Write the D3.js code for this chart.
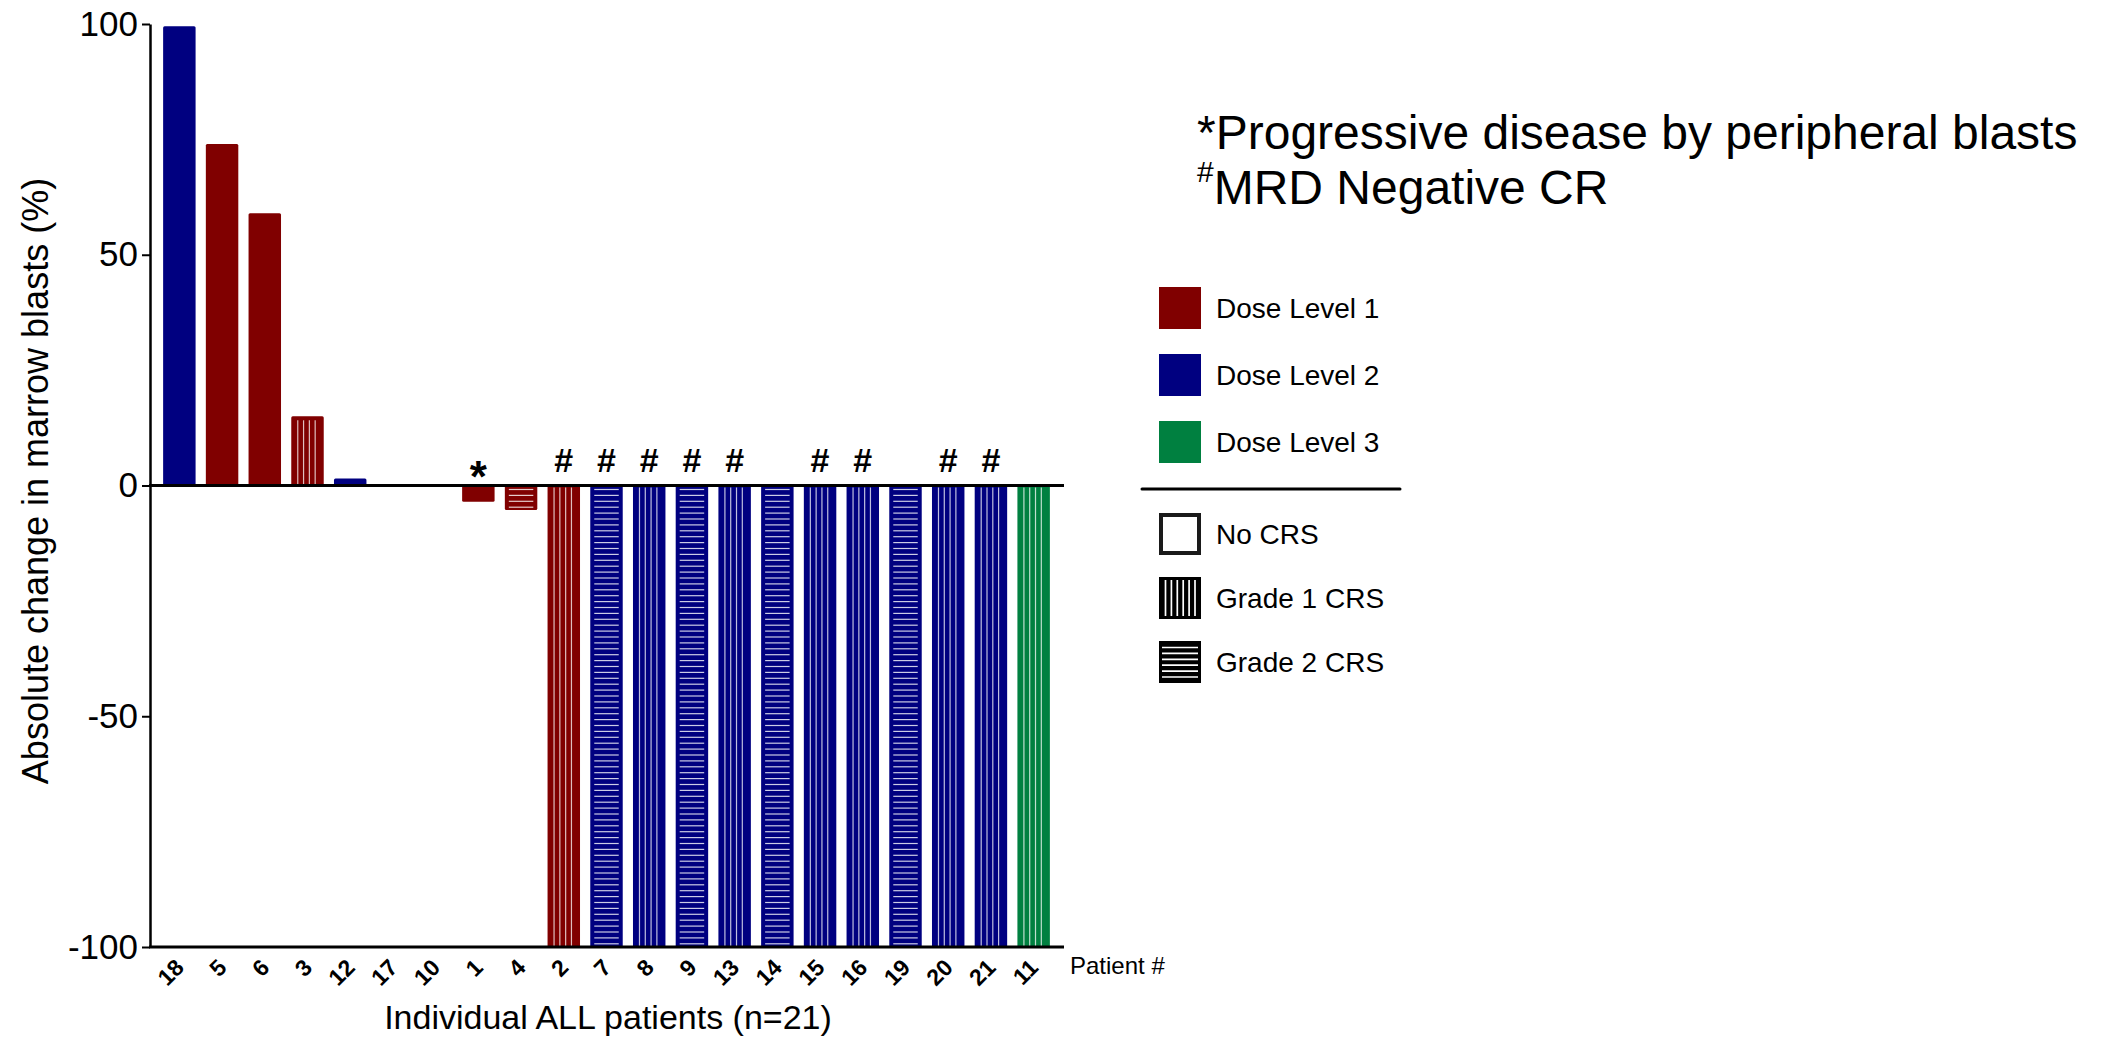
<!DOCTYPE html>
<html>
<head>
<meta charset="utf-8">
<script src="https://cdn.jsdelivr.net/npm/d3@7"></script>
<style>
body { margin: 0; background: #fff; }
text { font-family: "Liberation Sans", Arial, sans-serif; fill: #000; }
</style>
</head>
<body>
<svg id="chart"></svg>
<script>
// values
var patients = ["18", "5", "6", "3", "12", "17", "10", "1", "4", "2", "7", "8", "9", "13", "14", "15", "16", "19", "20", "21", "11"];
var change = [99.5, 74, 59, 15, 1.5, 0, 0, -3.5, -5.3, -100, -100, -100, -100, -100, -100, -100, -100, -100, -100, -100, -100];
var doseLevel = [2, 1, 1, 1, 2, null, null, 1, 1, 1, 2, 2, 2, 2, 2, 2, 2, 2, 2, 2, 3];
var crsGrade = [0, 0, 0, 1, 0, null, null, 0, 2, 1, 2, 1, 2, 1, 2, 1, 1, 2, 1, 1, 1];
var marks = ["", "", "", "", "", "", "", "*", "", "#", "#", "#", "#", "#", "", "#", "#", "", "#", "#", ""];
var yTicks = [-100, -50, 0, 50, 100];
var doseLabels = ["Dose Level 1", "Dose Level 2", "Dose Level 3"];
var crsLabels = ["No CRS", "Grade 1 CRS", "Grade 2 CRS"];
var noteLines = ["*Progressive disease by peripheral blasts", "MRD Negative CR"];

var doseColors = {1: "#800000", 2: "#000080", 3: "#008040"};

var w = 2101, h = 1038;
var svg = d3.select("#chart").attr("width", w).attr("height", h);

var x = d3.scaleBand()
          .domain(patients)
          .range([158, 1055])
          .paddingInner(0.24)
          .paddingOuter(0.12);
var y = d3.scaleLinear().domain([-100, 100]).range([947, 24]);

var rows = patients.map(function(p, i) {
  return {p: p, v: change[i], dose: doseLevel[i], crs: crsGrade[i], mark: marks[i]};
});
var bw = x.bandwidth();

// bars
var barG = svg.append("g");
rows.filter(function(d) { return d.v !== 0; }).forEach(function(d) {
  var x0 = x(d.p);
  var top = y(Math.max(d.v, 0)), bot = y(Math.min(d.v, 0));
  var g = barG.append("g");
  g.append("rect")
   .attr("x", x0).attr("y", top)
   .attr("width", bw).attr("height", bot - top)
   .attr("rx", 1.5)
   .attr("fill", doseColors[d.dose]);
  var s0 = d.v > 0 ? top + 4 : y(0) + 2;
  var s1 = bot;
  if (d.crs === 1) {
    for (var lx = x0 + 6.5; lx < x0 + bw - 4; lx += 5.8) {
      g.append("line")
       .attr("x1", lx).attr("x2", lx).attr("y1", s0).attr("y2", s1)
       .attr("stroke", "#fff").attr("stroke-opacity", 0.75).attr("stroke-width", 1.2);
    }
  } else if (d.crs === 2) {
    for (var ly = s0 + 2; ly < s1 - 2; ly += 5.9) {
      g.append("line")
       .attr("x1", x0 + 4).attr("x2", x0 + bw - 4).attr("y1", ly).attr("y2", ly)
       .attr("stroke", "#fff").attr("stroke-opacity", 0.8).attr("stroke-width", 1.2);
    }
  }
});

// markers above bars
svg.append("g").selectAll("text")
   .data(rows.filter(function(d) { return d.mark !== ""; }))
   .enter().append("text")
   .attr("x", function(d) { return x(d.p) + bw / 2; })
   .attr("y", function(d) { return d.mark === "#" ? y(0) - 14 : y(0) + 6; })
   .attr("text-anchor", "middle")
   .attr("font-weight", "bold")
   .attr("font-size", function(d) { return d.mark === "#" ? 34 : 44; })
   .text(function(d) { return d.mark; });

// y axis
var yAxis = d3.axisLeft(y).tickValues(yTicks)
              .tickFormat(function(d) { return String(d); })
              .tickSize(8).tickSizeOuter(0).tickPadding(4);
var yG = svg.append("g").attr("transform", "translate(150,0)").call(yAxis);
yG.select(".domain").attr("stroke", "#000").attr("stroke-width", 2.5);
yG.selectAll(".tick line").attr("stroke", "#000").attr("stroke-width", 2);
yG.selectAll(".tick text")
  .attr("font-size", 35)
  .attr("font-family", "Liberation Sans, Arial, sans-serif")
  .attr("fill", "#000");

// zero line and bottom line
[0, -100].forEach(function(v) {
  svg.append("line")
     .attr("x1", 149).attr("x2", 1064)
     .attr("y1", y(v)).attr("y2", y(v))
     .attr("stroke", "#000").attr("stroke-width", 3);
});

// patient labels
var xAxis = d3.axisBottom(x).tickSize(0).tickPadding(0);
var xG = svg.append("g").attr("transform", "translate(0,947)").call(xAxis);
xG.select(".domain").remove();
xG.selectAll(".tick text")
  .attr("y", 0).attr("dy", 0)
  .attr("transform", "translate(6,22) rotate(-45)")
  .attr("text-anchor", "end")
  .attr("font-size", 23)
  .attr("font-weight", "bold")
  .attr("font-family", "Liberation Sans, Arial, sans-serif")
  .attr("fill", "#000");

svg.append("text")
   .attr("x", 1070).attr("y", 974)
   .attr("font-size", 24)
   .text("Patient #");

// axis titles
svg.append("text")
   .attr("transform", "translate(48,481) rotate(-90)")
   .attr("text-anchor", "middle")
   .attr("font-size", 36)
   .text("Absolute change in marrow blasts (%)");

svg.append("text")
   .attr("x", 608).attr("y", 1029)
   .attr("text-anchor", "middle")
   .attr("font-size", 34)
   .text("Individual ALL patients (n=21)");

// footnotes
svg.append("text")
   .attr("x", 1197).attr("y", 149)
   .attr("font-size", 48)
   .text(noteLines[0]);
var n2 = svg.append("text").attr("x", 1197).attr("y", 204).attr("font-size", 48);
n2.append("tspan").attr("font-size", 30).attr("dy", -22).text("#");
n2.append("tspan").attr("dy", 22).text(noteLines[1]);

// legend
var lx0 = 1159, sq = 42;
var legG = svg.append("g");
doseLabels.forEach(function(t, i) {
  var ly = 287 + i * 67;
  legG.append("rect").attr("x", lx0).attr("y", ly).attr("width", sq).attr("height", sq)
      .attr("fill", doseColors[i + 1]);
  legG.append("text").attr("x", lx0 + 57).attr("y", ly + sq / 2).attr("dy", "0.36em")
      .attr("font-size", 28).text(t);
});

legG.append("line")
    .attr("x1", 1142).attr("x2", 1400).attr("y1", 489).attr("y2", 489)
    .attr("stroke", "#000").attr("stroke-width", 3).attr("stroke-linecap", "round");

crsLabels.forEach(function(t, i) {
  var ly = 513 + i * 64;
  if (i === 0) {
    legG.append("rect").attr("x", lx0 + 2).attr("y", ly + 2)
        .attr("width", sq - 4).attr("height", sq - 4)
        .attr("fill", "#fff").attr("stroke", "#1a1a1a").attr("stroke-width", 4);
  } else {
    legG.append("rect").attr("x", lx0).attr("y", ly).attr("width", sq).attr("height", sq)
        .attr("fill", "#000");
    for (var k = 6.5; k < sq - 4; k += 5.9) {
      if (i === 1) {
        legG.append("line").attr("x1", lx0 + k).attr("x2", lx0 + k)
            .attr("y1", ly + 3).attr("y2", ly + sq - 3)
            .attr("stroke", "#fff").attr("stroke-width", 1.7);
      } else {
        legG.append("line").attr("x1", lx0 + 3).attr("x2", lx0 + sq - 3)
            .attr("y1", ly + k).attr("y2", ly + k)
            .attr("stroke", "#fff").attr("stroke-width", 1.7);
      }
    }
  }
  legG.append("text").attr("x", lx0 + 57).attr("y", ly + sq / 2).attr("dy", "0.36em")
      .attr("font-size", 28).text(t);
});
</script>
</body>
</html>
